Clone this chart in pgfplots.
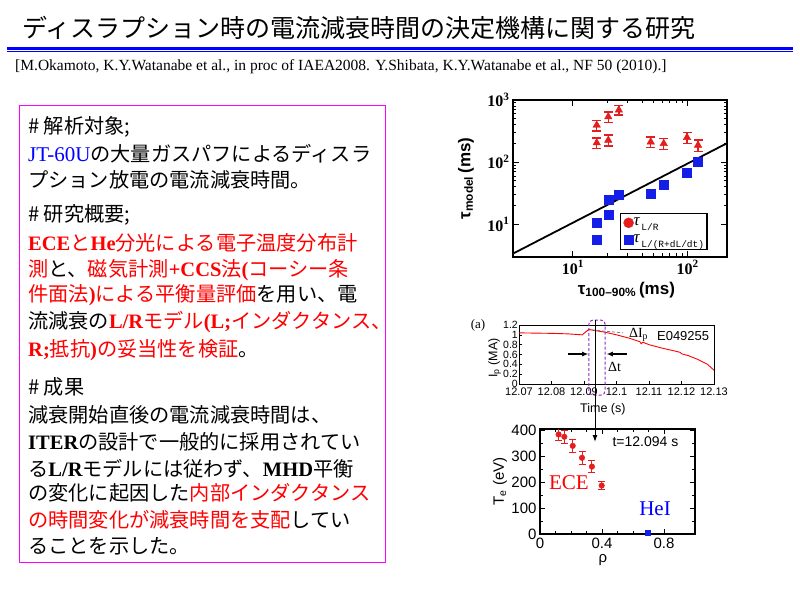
\documentclass[border=0pt]{standalone}
\usepackage{fontspec}
\setmainfont{Liberation Serif}
\setsansfont{Liberation Sans}
\setmonofont{Liberation Mono}
\newfontfamily\jp{Noto Sans CJK JP}
\usepackage{pgfplots}
\pgfplotsset{compat=1.18}
\usetikzlibrary{arrows.meta}
\newcommand{\myfs}[1]{\fontsize{#1}{#1}\selectfont}
\definecolor{ptred}{RGB}{228,30,30}
\definecolor{ptblue}{RGB}{20,30,230}
\definecolor{mag}{RGB}{255,0,255}
\definecolor{purp}{RGB}{150,40,190}
\definecolor{tblue}{RGB}{0,0,255}
\newcommand{\la}[1]{{\rmfamily\bfseries\myfs{20.5}#1}}
\newcommand{\rd}[1]{\textcolor{red}{#1}}
\newcommand{\jl}[2]{\node[anchor=west,inner sep=0] at (28pt,#1pt) {\jp\myfs{20.2}#2};}
\begin{document}
\begin{tikzpicture}
\useasboundingbox (0pt,0pt) rectangle (800pt,600pt);
\fill[white] (0pt,0pt) rectangle (800pt,600pt);
% title
\node[anchor=west,inner sep=0] at (22pt,572pt) {\jp\myfs{25}ディスラプション時の電流減衰時間の決定機構に関する研究};
\draw[tblue,line width=2.6pt] (7pt,551.7pt) -- (793pt,551.7pt);
\draw[tblue,line width=1.2pt] (7pt,548.5pt) -- (793pt,548.5pt);
\node[anchor=west,inner sep=0] at (15pt,533pt) {\rmfamily\myfs{15.5}[M.Okamoto, K.Y.Watanabe et al., in proc of IAEA2008. Y.Shibata, K.Y.Watanabe et al., NF 50 (2010).]};
% text box
\draw[mag,line width=1pt] (19pt,494pt) rectangle (385pt,38pt);
\jl{473.3}{\# 解析対象;}
\jl{446.7}{\textcolor{tblue}{\rmfamily\myfs{21}JT-60U}の大量ガスパフによるディスラ}
\jl{420}{プション放電の電流減衰時間。}
\jl{385}{\# 研究概要;}
\jl{357.3}{\rd{\la{ECE}と\la{He}分光による電子温度分布計}}
\jl{330}{\rd{測}と、\rd{磁気計測\la{+CCS}法\la{(}コーシー条}}
\jl{305}{\rd{件面法\la{)}による平衡量評価}を用い、電}
\jl{278.3}{流減衰の\rd{\la{L/R}モデル\la{(L;}インダクタンス、}}
\jl{250}{\rd{\la{R;}抵抗\la{)}の妥当性を検証}。}
\jl{213}{\# 成果}
\jl{185}{減衰開始直後の電流減衰時間は、}
\jl{158.3}{\la{ITER}の設計で一般的に採用されてい}
\jl{131.7}{る\la{L/R}モデルには従わず、\la{MHD}平衡}
\jl{106.7}{の変化に起因した\rd{内部インダクタンス}}
\jl{80}{\rd{の時間変化が減衰時間を支配}してい}
\jl{53.3}{ることを示した。}

% ---------- plot 1 ----------
\begin{axis}[at={(513pt,343pt)},anchor=south west,width=214pt,height=157pt,scale only axis,
  xmode=log,ymode=log,xmin=3,xmax=220,ymin=3,ymax=1000,
  axis line style={line width=1.8pt},
  every tick/.append style={black,line width=1pt},
  major tick length=6pt,minor tick length=3.5pt,tick align=inside,
  xtick={10,100},xticklabels={\textbf{10\textsuperscript{1}},\textbf{10\textsuperscript{2}}},
  ytick={10,100,1000},yticklabels={\textbf{10\textsuperscript{1}},\textbf{10\textsuperscript{2}},\textbf{10\textsuperscript{3}}},
  tick label style={font=\rmfamily\myfs{16}},
  xlabel={\sffamily\bfseries\myfs{17}τ\textsubscript{100--90\%}\,(ms)},
  xlabel style={at={(axis description cs:0.53,-0.21)},anchor=center},
  ylabel={\sffamily\bfseries\myfs{17}τ\textsubscript{model}\,(ms)},
  ylabel style={at={(axis description cs:-0.22,0.5)},anchor=center},
  legend style={at={(0.5,0.045)},anchor=south west,draw=black,line width=1.2pt,fill=white,
    inner xsep=3pt,inner ysep=1pt,row sep=0pt,
    nodes={inner sep=0pt,anchor=west,text height=11pt,text depth=6pt}},
  legend image code/.code={\draw[#1] (0.3cm,0cm) -- plot coordinates {(0.3cm,0cm)};},
  legend cell align=left,
  unbounded coords=jump,
]
\addplot[black,line width=1.8pt,forget plot] coordinates {(3,3.4) (220,202)};
\addplot[ptred,line width=1.4pt,mark=-,mark size=4.5pt,mark options={line width=1.6pt},forget plot]
  coordinates {
  (16.1,320) (16.1,470) (16.1,nan)
  (16.1,165) (16.1,245) (16.1,nan)
  (20.3,438) (20.3,638) (20.3,nan)
  (20.3,181) (20.3,271) (20.3,nan)
  (25.1,570) (25.1,810) (25.1,nan)
  (47.6,172) (47.6,252) (47.6,nan)
  (61.8,160) (61.8,240) (61.8,nan)
  (98.6,200) (98.6,300) (98.6,nan)
  (123,148) (123,228)
  };
\addplot[only marks,mark=triangle*,mark size=4.3pt,color=ptred,forget plot]
  coordinates {(16.1,395) (16.1,205) (20.3,538) (20.3,226) (25.1,690) (47.6,212) (61.8,200) (98.6,250) (123,188)};
\addplot[only marks,mark=square*,mark size=4.5pt,color=ptblue,forget plot]
  coordinates {(16.1,10.5) (16.1,5.7) (20.3,25.3) (20.3,14.3) (25.1,30.1) (47.6,31.3) (61.8,44.2) (98.6,67.1) (123,101)};
\addlegendimage{only marks,mark=*,mark size=5pt,color=ptred,line width=0.4pt}
\addlegendentry{{\rmfamily\itshape\myfs{17}τ}\,\raisebox{-5pt}{\ttfamily\myfs{9.5}L/R}}
\addlegendimage{only marks,mark=square*,mark size=4.5pt,color=ptblue,line width=0.4pt}
\addlegendentry{{\rmfamily\itshape\myfs{17}τ}\,\raisebox{-5pt}{\ttfamily\myfs{9.5}L/(R+dL/dt)}}
\end{axis}

% ---------- plot 2 ----------
\begin{axis}[at={(519pt,216pt)},anchor=south west,width=195pt,height=59pt,scale only axis,
  xmin=12.07,xmax=12.13,ymin=0,ymax=1.2,clip=false,
  axis line style={line width=0.8pt},
  every tick/.append style={black,line width=0.6pt},tick align=inside,
  xtick pos=left,ytick pos=left,major tick length=3pt,
  xtick={12.07,12.08,12.09,12.1,12.11,12.12,12.13},
  xticklabels={12.07,12.08,12.09,12.1,12.11,12.12,12.13},
  ytick={0,0.2,0.4,0.6,0.8,1,1.2},
  yticklabels={0,0.2,0.4,0.6,0.8,1,1.2},
  xticklabel style={font=\sffamily\myfs{11}},
  yticklabel style={font=\sffamily\myfs{10.5},inner sep=1pt},
  xlabel={\sffamily\myfs{12.5}Time (s)},
  xlabel style={at={(axis description cs:0.43,-0.43)},anchor=center},
  ylabel={\sffamily\myfs{12.5}I\textsubscript{p} (MA)},
  ylabel style={at={(axis description cs:-0.125,0.44)},anchor=center},
]
\addplot[red,line width=0.9pt] coordinates {
 (12.070,1.04) (12.075,1.035) (12.080,1.03) (12.085,1.02) (12.0895,1.00)
 (12.0905,1.06) (12.0915,1.11) (12.093,1.09) (12.096,1.06) (12.100,1.00)
 (12.104,0.93) (12.1072,0.86) (12.1076,0.82) (12.1081,0.85) (12.110,0.80)
 (12.114,0.73) (12.118,0.67) (12.1195,0.645) (12.1202,0.61) (12.122,0.58)
 (12.125,0.50) (12.128,0.40) (12.130,0.28)};
\draw[purp,line width=1pt,dash pattern=on 3pt off 2pt,rounded corners=4pt]
  (axis cs:12.0915,-0.224) rectangle (axis cs:12.0965,1.30);
\draw[gray,line width=0.8pt,dash pattern=on 3pt off 2pt] (axis cs:12.0925,1.10) -- (axis cs:12.102,1.04);
\node[font=\rmfamily\myfs{14}] at (axis cs:12.1068,1.0) {ΔI\textsubscript{p}};
\node[font=\sffamily\myfs{13}] at (axis cs:12.1205,0.976) {E049255};
\draw[line width=1.1pt,-{Latex[length=6pt,width=5pt]}] (axis cs:12.0851,0.61) -- (axis cs:12.0913,0.61);
\draw[line width=1.1pt,-{Latex[length=6pt,width=5pt]}] (axis cs:12.1032,0.61) -- (axis cs:12.0970,0.61);
\node[font=\rmfamily\myfs{14}] at (axis cs:12.0994,0.345) {Δt};
\end{axis}
\node[font=\rmfamily\myfs{13}] at (478pt,275pt) {(a)};

% ---------- plot 3 ----------
\begin{axis}[at={(540pt,66pt)},anchor=south west,width=155pt,height=105pt,scale only axis,
  xmin=0,xmax=1,ymin=0,ymax=405,
  axis line style={line width=1.3pt},
  every tick/.append style={black,line width=0.9pt},tick align=inside,
  major tick length=5pt,minor tick length=3pt,
  xtick={0,0.4,0.8},xticklabels={0,0.4,0.8},minor x tick num=3,
  ytick={0,100,200,300,400},yticklabels={0,100,200,300,400},minor y tick num=1,
  tick label style={font=\sffamily\myfs{15}},
  xlabel={\sffamily\myfs{15}ρ},
  xlabel style={at={(axis description cs:0.406,-0.25)},anchor=center},
  ylabel={\sffamily\myfs{15}T\textsubscript{e} (eV)},
  ylabel style={at={(axis description cs:-0.258,0.5)},anchor=center},
]
\addplot[ptred,line width=0.9pt,mark=-,mark size=3.5pt,unbounded coords=jump,forget plot]
  coordinates {
  (0.12,362) (0.12,406) (0.12,nan)
  (0.157,350) (0.157,400) (0.157,nan)
  (0.211,315) (0.211,365) (0.211,nan)
  (0.271,269) (0.271,319) (0.271,nan)
  (0.335,238) (0.335,282) (0.335,nan)
  (0.398,172) (0.398,202)
  };
\addplot[only marks,mark=*,mark size=2.8pt,color=ptred]
  coordinates {(0.12,384) (0.157,375) (0.211,340) (0.271,294) (0.335,260) (0.398,187)};
\addplot[only marks,mark=square*,mark size=2.6pt,color=ptblue] coordinates {(0.695,5)};
\node[font=\sffamily\myfs{14}] at (axis cs:0.68,355) {t=12.094 s};
\node[font=\rmfamily\myfs{21},text=red] at (axis cs:0.187,197) {ECE};
\node[font=\rmfamily\myfs{21},text=tblue] at (axis cs:0.742,96) {HeI};
\end{axis}
\draw[black,line width=1pt,-{Latex[length=7pt,width=5pt]}] (595pt,280pt) -- (595pt,158pt);
\end{tikzpicture}
\end{document}
